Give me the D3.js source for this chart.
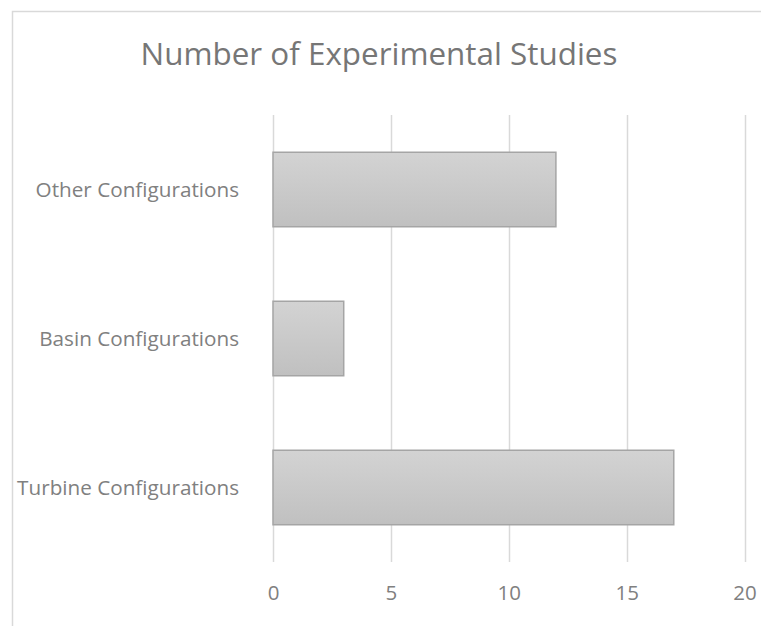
<!DOCTYPE html>
<html>
<head>
<meta charset="utf-8">
<script src="https://cdn.jsdelivr.net/npm/d3@7"></script>
<style>
  body { margin: 0; background: #fff; }
  text { font-family: "Open Sans", sans-serif; }
</style>
</head>
<body>
<script>
let categories = ["Other Configurations", "Basin Configurations", "Turbine Configurations"],
    studies = [12, 3, 17],
    xTicks = [0, 5, 10, 15, 20];

const width = 761,
    height = 626,
    plotLeft = 273,
    plotRight = 744.5,
    plotTop = 115,
    plotBottom = 562;

const svg = d3.select("body")
    .append("svg")
    .attr("width", width)
    .attr("height", height);

// chart border (cut off at right and bottom)
svg.append("rect")
    .attr("x", 12.5)
    .attr("y", 11.5)
    .attr("width", 800)
    .attr("height", 700)
    .attr("fill", "#fff")
    .attr("stroke", "#d9d9d9")
    .attr("stroke-width", 1.5);

const defs = svg.append("defs");
const grad = defs.append("linearGradient")
    .attr("id", "barFill")
    .attr("x1", 0).attr("y1", 0)
    .attr("x2", 0).attr("y2", 1);
grad.append("stop").attr("offset", "0%").attr("stop-color", "#d3d3d3");
grad.append("stop").attr("offset", "100%").attr("stop-color", "#c0c0c0");

const xScale = d3.scaleLinear()
    .domain([0, 20])
    .range([plotLeft, plotRight]);

const yScale = d3.scaleBand()
    .domain(categories)
    .range([plotTop, plotBottom])
    .paddingInner(0.5)
    .paddingOuter(0.25);

// gridlines
svg.append("g")
    .selectAll("line")
    .data(xTicks)
    .enter()
    .append("line")
    .attr("x1", d => Math.round(xScale(d)) + 0.5)
    .attr("x2", d => Math.round(xScale(d)) + 0.5)
    .attr("y1", plotTop)
    .attr("y2", plotBottom)
    .attr("stroke", "#d9d9d9")
    .attr("stroke-width", 1.5);

// bars
svg.selectAll("rect.bar")
    .data(categories)
    .enter()
    .append("rect")
    .attr("class", "bar")
    .attr("x", xScale(0))
    .attr("y", d => yScale(d))
    .attr("width", (d, i) => xScale(studies[i]) - xScale(0))
    .attr("height", yScale.bandwidth())
    .attr("fill", "url(#barFill)")
    .attr("stroke", "#a5a5a5")
    .attr("stroke-width", 1.5);

// x axis labels
const xAxis = d3.axisBottom(xScale)
    .tickValues(xTicks)
    .tickSize(0)
    .tickPadding(0);

const gx = svg.append("g")
    .attr("transform", "translate(0," + 600 + ")")
    .call(xAxis);
gx.select(".domain").remove();
gx.selectAll("text")
    .attr("y", 0)
    .attr("dy", 0)
    .attr("font-family", "Open Sans, sans-serif")
    .attr("font-size", 20.5)
    .attr("fill", "#808080");

// y axis labels
const yAxis = d3.axisLeft(yScale)
    .tickSize(0)
    .tickPadding(0);

const gy = svg.append("g")
    .attr("transform", "translate(" + 239 + ",0)")
    .call(yAxis);
gy.select(".domain").remove();
gy.selectAll("text")
    .attr("x", 0)
    .attr("dy", "0.36em")
    .attr("font-family", "Open Sans, sans-serif")
    .attr("font-size", 20.7)
    .attr("fill", "#808080");

// title
svg.append("text")
    .attr("x", 379)
    .attr("y", 65)
    .attr("text-anchor", "middle")
    .attr("font-size", 31.4)
    .attr("fill", "#767676")
    .text("Number of Experimental Studies");
</script>
</body>
</html>
